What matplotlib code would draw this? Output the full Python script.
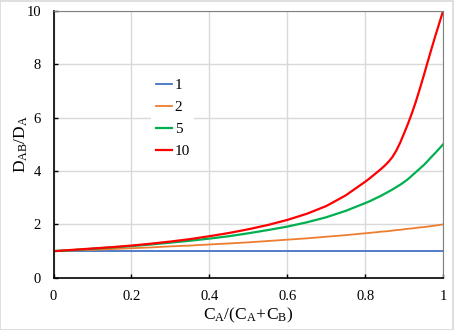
import matplotlib.pyplot as plt
import numpy as np

plt.rcParams['font.family'] = ['Liberation Serif', 'DejaVu Serif']
plt.rcParams['mathtext.fontset'] = 'custom'
plt.rcParams['mathtext.rm'] = 'Liberation Serif'
plt.rcParams['mathtext.it'] = 'Liberation Serif:italic'

# mole fraction of A (finer spacing near pure A where curves turn up)
x = [0, 0.05, 0.1, 0.15, 0.2, 0.25, 0.3, 0.35, 0.4, 0.45, 0.5, 0.55,
     0.6, 0.65, 0.7, 0.75,
     0.80, 0.81, 0.82, 0.83, 0.84, 0.85, 0.86, 0.87, 0.88, 0.89, 0.90,
     0.91, 0.92, 0.93, 0.94, 0.95, 0.96, 0.97, 0.98, 0.99, 1.00]

ratio_1 = [1.0] * len(x)
ratio_2 = [1.0, 1.03, 1.05, 1.08, 1.11, 1.14, 1.18, 1.21, 1.25, 1.29,
           1.33, 1.38, 1.43, 1.48, 1.54, 1.60,
           1.67, 1.68, 1.70, 1.71, 1.73, 1.74, 1.75, 1.77, 1.79, 1.80,
           1.82, 1.84, 1.85, 1.87, 1.89, 1.90, 1.92, 1.94, 1.96, 1.98, 2.00]
ratio_5 = [1.0, 1.04, 1.09, 1.14, 1.19, 1.25, 1.32, 1.39, 1.47, 1.56,
           1.67, 1.79, 1.92, 2.08, 2.27, 2.51,
           2.80, 2.86, 2.93, 3.00, 3.07, 3.15, 3.23, 3.31, 3.40, 3.49,
           3.59, 3.70, 3.83, 3.96, 4.09, 4.22, 4.37, 4.53, 4.68, 4.84, 5.00]
ratio_10 = [1.0, 1.05, 1.10, 1.15, 1.21, 1.28, 1.36, 1.45, 1.56, 1.68,
            1.82, 1.98, 2.17, 2.40, 2.69, 3.09,
            3.60, 3.71, 3.83, 3.95, 4.07, 4.20, 4.35, 4.53, 4.77, 5.07,
            5.42, 5.78, 6.17, 6.60, 7.07, 7.56, 8.07, 8.57, 9.06, 9.53,
            10.0]

labels = ['1', '2', '5', '10']
colors = ['#4472C4', '#ED7D31', '#00B050', '#FF0000']
widths = [1.3, 1.3, 1.6, 1.6]

fig = plt.figure(figsize=(4.54, 3.30), dpi=100)
fig.patches.append(plt.Rectangle((0.001, 0.001), 0.997, 0.996,
                                 transform=fig.transFigure, fill=False,
                                 edgecolor='#d9d9d9', linewidth=1.2))
ax = fig.add_axes([0.118, 0.158, 0.858, 0.809])

for y, lab, c, lw in zip([ratio_1, ratio_2, ratio_5, ratio_10],
                         labels, colors, widths):
    ax.plot(x, y, color=c, linewidth=lw, label=lab)

ax.set_xlim(0, 1)
ax.set_ylim(0, 10)
ax.set_xticks(np.arange(0, 1.01, 0.2))
ax.set_xticklabels(['0', '0.2', '0.4', '0.6', '0.8', '1'])
ax.set_yticks(np.arange(0, 11, 2))
ax.grid(True, color='#d9d9d9', linewidth=1.0)
ax.set_axisbelow(True)
ax.tick_params(direction='in', length=3, width=1, labelsize=10.5,
               pad=9)

ax.spines['left'].set_color('black')
ax.spines['bottom'].set_color('black')
ax.spines['left'].set_linewidth(1.2)
ax.spines['bottom'].set_linewidth(1.2)
ax.spines['top'].set_color('#808080')
ax.spines['right'].set_color('#808080')

ax.set_xlabel(r'$\mathrm{C_A/(C_A\!+\!C_B)}$', fontsize=12.5, labelpad=2)
ax.set_ylabel(r'$\mathrm{D_{AB}/D_A}$', fontsize=12.5, labelpad=-2.5)

leg = ax.legend(loc='upper left', bbox_to_anchor=(0.25, 0.765),
                frameon=True, fancybox=False, edgecolor='none',
                facecolor='white', framealpha=1, fontsize=11,
                handlelength=1.1, handletextpad=0.15, labelspacing=0.55,
                borderpad=0.3, borderaxespad=0)

fig.savefig('out.png', dpi=100)
